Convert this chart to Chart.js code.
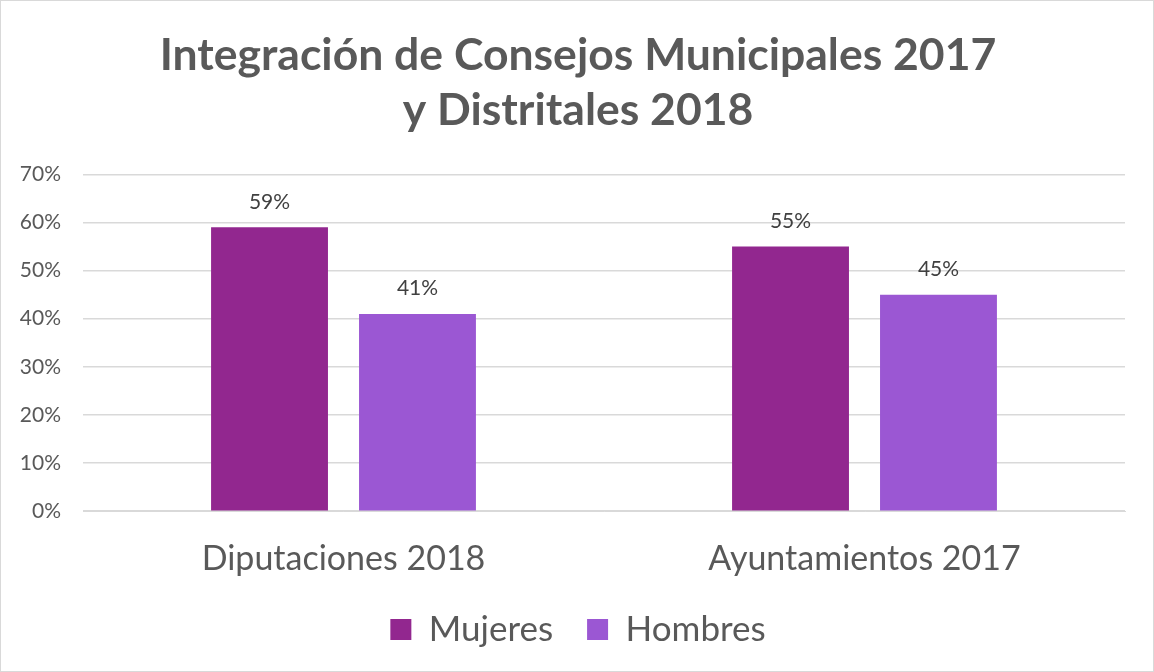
<!DOCTYPE html>
<html>
<head>
<meta charset="utf-8">
<script src="https://cdn.jsdelivr.net/npm/chart.js@4"></script>
<style>
  html, body { margin:0; padding:0; background:#fff; }
  #wrap { position:relative; width:1152px; height:670px; border:1px solid #d9d9d9; }
</style>
</head>
<body>
<div id="wrap"><canvas id="c"></canvas></div>
<script>
// data
const categories = ['Diputaciones 2018', 'Ayuntamientos 2017'];
const mujeres = [59, 55];
const hombres = [41, 45];
const seriesNames = ['Mujeres', 'Hombres'];
const yTicks = [0, 10, 20, 30, 40, 50, 60, 70];

const grey = '#595959';
const fontFam = 'Lato, "Open Sans", sans-serif';

// little plugin for the % labels above bars
const barLabels = {
  id: 'barLabels',
  afterDatasetsDraw(chart) {
    const ctx = chart.ctx;
    ctx.save();
    ctx.font = '21px ' + fontFam;
    ctx.fillStyle = '#404040';
    ctx.textAlign = 'center';
    ctx.textBaseline = 'bottom';
    chart.data.datasets.forEach((ds, i) => {
      chart.getDatasetMeta(i).data.forEach((bar, j) => {
        ctx.fillText(ds.data[j] + '%', bar.x, bar.y - 15);
      });
    });
    ctx.restore();
  }
};

new Chart(document.getElementById('c'), {
  type: 'bar',
  data: {
    labels: categories,
    datasets: [
      { label: seriesNames[0], data: mujeres, backgroundColor: '#92278F' },
      { label: seriesNames[1], data: hombres, backgroundColor: '#9B57D3' }
    ]
  },
  options: {
    responsive: true,
    maintainAspectRatio: false,
    animation: false,
    categoryPercentage: 0.568,
    barPercentage: 0.79,
    layout: { padding: { left: 18, right: 16, top: 0, bottom: 14 } },
    plugins: {
      title: {
        display: true,
        text: ['Integración de Consejos Municipales 2017', 'y Distritales 2018'],
        color: grey,
        font: { family: fontFam, size: 44.5, weight: 'bold', lineHeight: 1.24 },
        padding: { top: 27, bottom: 36 }
      },
      legend: {
        position: 'bottom',
        labels: {
          color: grey,
          font: { family: fontFam, size: 35 },
          boxWidth: 21,
          boxHeight: 21,
          padding: 34
        }
      },
      tooltip: { enabled: false }
    },
    scales: {
      x: {
        grid: { display: false },
        border: { color: '#d9d9d9' },
        ticks: { color: grey, font: { family: fontFam, size: 34 }, padding: 19 },
        afterFit(axis) { axis.height -= 20; }
      },
      y: {
        min: 0,
        max: 70,
        afterBuildTicks(axis) { axis.ticks = yTicks.map(v => ({ value: v })); },
        afterFit(axis) { axis.width = 64; },
        grid: { color: '#d9d9d9', lineWidth: 1.5, drawTicks: false },
        border: { display: false },
        ticks: {
          color: grey,
          font: { family: fontFam, size: 21 },
          padding: 22,
          callback: v => v + '%'
        }
      },
      // empty spacer on the right so the plot ends where the reference does
      yRight: {
        position: 'right',
        grid: { display: false },
        border: { display: false },
        ticks: { display: false },
        afterFit(axis) { axis.width = 12; }
      }
    }
  },
  plugins: [barLabels]
});
</script>
</body>
</html>
